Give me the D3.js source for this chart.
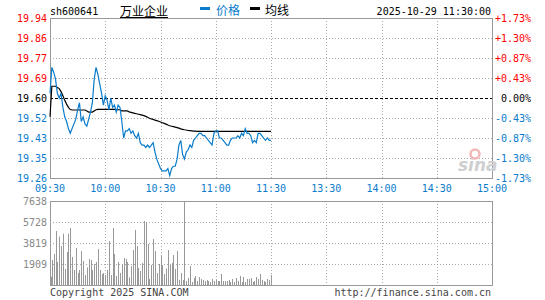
<!DOCTYPE html>
<html>
<head>
<meta charset="utf-8">
<script src="https://cdn.jsdelivr.net/npm/d3@7"></script>
<style>
  body { margin: 0; background: #fff; }
  text { font-family: "DejaVu Sans Mono", monospace; font-size: 10px; }
  .cjk { font-family: "Noto Sans CJK SC", sans-serif; font-size: 12px; }
</style>
</head>
<body>
<div id="plot"></div>
<script>
// minute data 09:30 - 11:30 (index = minutes since 09:30)
const price = [19.62, 19.73, 19.71, 19.68, 19.62, 19.60, 19.62, 19.56, 19.52, 19.50,
  19.47, 19.45, 19.47, 19.49, 19.51, 19.55, 19.58, 19.50, 19.52, 19.49,
  19.48, 19.51, 19.54, 19.58, 19.68, 19.73, 19.70, 19.66, 19.62, 19.57,
  19.61, 19.59, 19.55, 19.60, 19.56, 19.57, 19.54, 19.57, 19.56, 19.50,
  19.43, 19.46, 19.46, 19.47, 19.45, 19.46, 19.44, 19.43, 19.45, 19.41,
  19.40, 19.40, 19.39, 19.40, 19.39, 19.40, 19.41, 19.37, 19.34, 19.32,
  19.30, 19.29, 19.29, 19.29, 19.30, 19.27, 19.30, 19.31, 19.31, 19.34,
  19.40, 19.42, 19.36, 19.34, 19.37, 19.38, 19.40, 19.39, 19.42, 19.43,
  19.44, 19.45, 19.45, 19.44, 19.44, 19.43, 19.42, 19.41, 19.40, 19.45,
  19.46, 19.46, 19.43, 19.43, 19.42, 19.41, 19.40, 19.40, 19.42, 19.43,
  19.43, 19.43, 19.44, 19.43, 19.45, 19.44, 19.47, 19.45, 19.45, 19.44,
  19.41, 19.42, 19.41, 19.45, 19.45, 19.44, 19.43, 19.42, 19.43, 19.42,
  19.42];

const avgPrice = [19.52, 19.65, 19.65, 19.65, 19.645, 19.64, 19.627, 19.61, 19.59, 19.574,
  19.56, 19.551, 19.549, 19.549, 19.549, 19.549, 19.549, 19.549, 19.549, 19.549,
  19.545, 19.54, 19.54, 19.54, 19.545, 19.55, 19.552, 19.552, 19.552, 19.552,
  19.552, 19.552, 19.552, 19.552, 19.552, 19.552, 19.55, 19.55, 19.55, 19.545,
  19.545, 19.545, 19.545, 19.541, 19.539, 19.537, 19.535, 19.533, 19.531, 19.529,
  19.527, 19.525, 19.522, 19.518, 19.514, 19.511, 19.509, 19.506, 19.504, 19.501,
  19.498, 19.495, 19.492, 19.489, 19.485, 19.482, 19.48, 19.478, 19.476, 19.474,
  19.472, 19.469, 19.467, 19.465, 19.464, 19.462, 19.461, 19.46, 19.459, 19.459,
  19.458, 19.458, 19.458, 19.458, 19.458, 19.458, 19.458, 19.458, 19.458, 19.458,
  19.458, 19.458, 19.458, 19.458, 19.458, 19.458, 19.458, 19.458, 19.458, 19.458,
  19.458, 19.458, 19.458, 19.458, 19.458, 19.458, 19.458, 19.458, 19.458, 19.458,
  19.458, 19.458, 19.458, 19.458, 19.458, 19.458, 19.458, 19.458, 19.458, 19.458,
  19.458];

const volume = [758, 2273, 2819, 4910, 2091, 4395, 3546, 4668, 1455, 3001,
  4668, 5183, 2546, 1364, 3364, 1091, 1364, 3092, 2182, 909,
  1600, 2364, 2273, 1364, 1910, 2091, 3273, 1364, 1000, 1091,
  909, 1364, 4001, 909, 5183, 2819, 818, 2091, 1091, 1910,
  2455, 2364, 2091, 697, 1728, 3183, 5001, 3546, 1546, 1273,
  2000, 5820, 5729, 3728, 546, 1819, 4183, 3092, 1091, 1910,
  2728, 1819, 1000, 1500, 3183, 1819, 2000, 2728, 1455, 3092,
  455, 1091, 455, 7638, 364, 637, 1728, 273, 637, 818,
  364, 728, 546, 455, 364, 455, 364, 273, 546, 364,
  455, 364, 364, 1000, 364, 364, 364, 455, 273, 546,
  273, 637, 364, 818, 273, 728, 273, 546, 546, 637,
  273, 364, 728, 546, 1000, 455, 364, 273, 546, 455,
  909];

const prevClose = 19.60;
const priceLabels = ["19.94", "19.86", "19.77", "19.69", "19.60", "19.52", "19.43", "19.35", "19.26"];
const pctLabels = ["+1.73%", "+1.30%", "+0.87%", "+0.43%", "0.00%", "-0.43%", "-0.87%", "-1.30%", "-1.73%"];
const volLabels = ["7638", "5728", "3819", "1909"];
const timeLabels = ["09:30", "10:00", "10:30", "11:00", "11:30", "13:30", "14:00", "14:30", "15:00"];

const w = 545, h = 300;
const left = 50, right = 492;
const top1 = 18, bot1 = 178;
const top2 = 201, bot2 = 285;

const red = "#ff0000", blue = "#0a7ccb", gridCol = "#aaaaaa", borderCol = "#999999";

const svg = d3.select("#plot").append("svg")
    .attr("width", w)
    .attr("height", h);

const x = d3.scaleLinear().domain([0, 240]).range([left, right]);
const y = d3.scaleLinear().domain([19.26, 19.94]).range([bot1, top1]);
const yVol = d3.scaleLinear().domain([0, 7638]).range([bot2, top2]);
const level = d3.scaleLinear().domain([0, 8]).range([top1, bot1]);
const volLevel = d3.scaleLinear().domain([0, 4]).range([top2, bot2]);

const labelColor = i => i < 4 ? red : (i === 4 ? "#000" : blue);

// grid - price panel
const g1 = svg.append("g");
g1.selectAll("line.h").data(d3.range(1, 8).filter(i => i !== 4)).enter().append("line")
    .attr("x1", left).attr("x2", right)
    .attr("y1", d => level(d) + 0.5).attr("y2", d => level(d) + 0.5)
    .attr("stroke", gridCol).attr("stroke-dasharray", "1,2");
g1.selectAll("line.v").data(d3.range(1, 8)).enter().append("line")
    .attr("x1", d => Math.round(x(d * 30)) + 0.5).attr("x2", d => Math.round(x(d * 30)) + 0.5)
    .attr("y1", top1).attr("y2", bot1)
    .attr("stroke", gridCol).attr("stroke-dasharray", "1,2");
g1.append("line")
    .attr("x1", left).attr("x2", right)
    .attr("y1", y(prevClose) + 0.5).attr("y2", y(prevClose) + 0.5)
    .attr("stroke", "#000").attr("stroke-dasharray", "3,2");
g1.append("rect")
    .attr("x", left + 0.5).attr("y", top1 + 0.5)
    .attr("width", right - left).attr("height", bot1 - top1)
    .attr("fill", "none").attr("stroke", borderCol);

// sina watermark
const wm = svg.append("g").attr("transform", "translate(458,171)");
wm.append("text").text("sina")
    .attr("x", 0).attr("y", 0)
    .style("font-family", "DejaVu Sans")
    .style("font-size", "17px").style("font-style", "italic").style("font-weight", "bold")
    .attr("fill", "#cfcfcf");
wm.append("circle").attr("cx", 17).attr("cy", -17).attr("r", 4.5)
    .attr("fill", "none").attr("stroke", "#f2b8b8").attr("stroke-width", 2.5);

// grid - volume panel
const g2 = svg.append("g");
g2.selectAll("line.h").data([1, 2, 3]).enter().append("line")
    .attr("x1", left).attr("x2", right)
    .attr("y1", d => volLevel(d) + 0.5).attr("y2", d => volLevel(d) + 0.5)
    .attr("stroke", gridCol).attr("stroke-dasharray", "1,2");
g2.selectAll("line.v").data(d3.range(1, 8)).enter().append("line")
    .attr("x1", d => Math.round(x(d * 30)) + 0.5).attr("x2", d => Math.round(x(d * 30)) + 0.5)
    .attr("y1", top2).attr("y2", bot2)
    .attr("stroke", gridCol).attr("stroke-dasharray", "1,2");
g2.append("rect")
    .attr("x", left + 0.5).attr("y", top2 + 0.5)
    .attr("width", right - left).attr("height", bot2 - top2)
    .attr("fill", "none").attr("stroke", borderCol);

// volume bars
g2.selectAll("rect.bar").data(volume).enter().append("rect")
    .attr("class", "bar")
    .attr("x", (d, i) => Math.round(x(i)) + (i === 0 ? 1 : 0))
    .attr("y", d => yVol(d))
    .attr("width", 1)
    .attr("height", d => bot2 - yVol(d))
    .attr("fill", "#999999");

// avg and price lines
const line = d3.line().x((d, i) => x(i)).y(d => y(d));
svg.append("path").datum(avgPrice)
    .attr("d", line).attr("fill", "none")
    .attr("stroke", "#000").attr("stroke-width", 1.2);
svg.append("path").datum(price)
    .attr("d", line).attr("fill", "none")
    .attr("stroke", blue).attr("stroke-width", 1.2);

// left price labels
svg.append("g").selectAll("text").data(priceLabels).enter().append("text")
    .attr("x", 47).attr("y", (d, i) => level(i) + 3.5)
    .attr("text-anchor", "end")
    .attr("fill", (d, i) => labelColor(i))
    .text(d => d);

// right pct labels
svg.append("g").selectAll("text").data(pctLabels).enter().append("text")
    .attr("x", d => d === "0.00%" ? 501 : 495).attr("y", (d, i) => level(i) + 3.5)
    .attr("fill", (d, i) => labelColor(i))
    .text(d => d);

// volume labels
svg.append("g").selectAll("text").data(volLabels).enter().append("text")
    .attr("x", 47).attr("y", (d, i) => volLevel(i) + 3.5)
    .attr("text-anchor", "end")
    .attr("fill", "#888888")
    .text(d => d);

// time labels
svg.append("g").selectAll("text").data(timeLabels).enter().append("text")
    .attr("x", (d, i) => x(i * 30))
    .attr("y", 192)
    .attr("text-anchor", "middle")
    .attr("fill", blue)
    .text(d => d);

// header
svg.append("text").attr("x", 50).attr("y", 15).attr("fill", "#000").text("sh600641");
svg.append("text").attr("class", "cjk").attr("x", 120).attr("y", 16)
    .attr("fill", "#000").text("万业企业");
svg.append("line").attr("x1", 120).attr("x2", 168).attr("y1", 17.5).attr("y2", 17.5)
    .attr("stroke", "#000");
svg.append("rect").attr("x", 200).attr("y", 7).attr("width", 10).attr("height", 3).attr("fill", blue);
svg.append("text").attr("class", "cjk").attr("x", 216).attr("y", 15).attr("fill", blue).text("价格");
svg.append("rect").attr("x", 250).attr("y", 7).attr("width", 10).attr("height", 3).attr("fill", "#000");
svg.append("text").attr("class", "cjk").attr("x", 265).attr("y", 15).attr("fill", "#000").text("均线");
svg.append("text").attr("x", 491).attr("y", 15).attr("text-anchor", "end")
    .attr("fill", "#000").text("2025-10-29 11:30:00");

// footer
svg.append("text").attr("x", 50).attr("y", 296).attr("fill", "#444").text("Copyright 2025 SINA.COM");
svg.append("text").attr("x", 491).attr("y", 296).attr("text-anchor", "end")
    .attr("fill", "#444").text("http://finance.sina.com.cn");
</script>
</body>
</html>
